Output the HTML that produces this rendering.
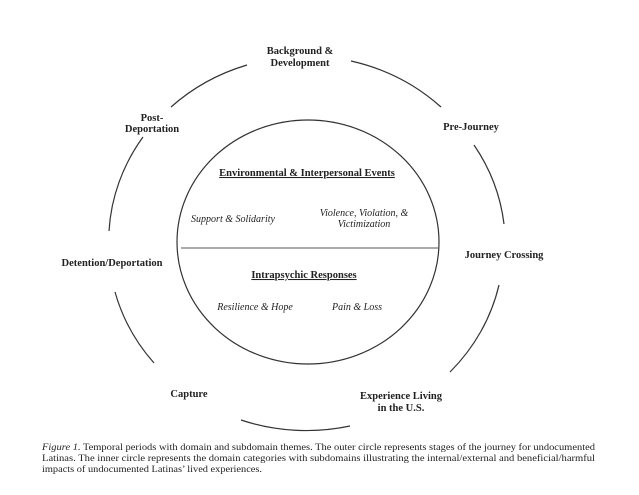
<!DOCTYPE html>
<html><head><style>body{margin:0;background:#fff}svg{display:block}</style></head><body>
<svg width="639" height="495" viewBox="0 0 639 495" xmlns="http://www.w3.org/2000/svg" font-family="Liberation Serif, serif" fill="#222">
<g fill="none" stroke="#333" stroke-width="1.2">
<path d="M171,107 A197 185 0 0 1 247,65"/>
<path d="M351,61 A197 185 0 0 1 441,107"/>
<path d="M474,145 A197 185 0 0 1 504,224"/>
<path d="M499,285 A197 185 0 0 1 450,372"/>
<path d="M350,426 A197 185 0 0 1 241,420"/>
<path d="M154,363 A197 185 0 0 1 115,292"/>
<path d="M109,231 A197 185 0 0 1 143,137"/>
<ellipse cx="308" cy="242" rx="131" ry="122"/>
</g>
<line x1="181" y1="248" x2="438" y2="248" stroke="#aaa" stroke-width="2"/>
<g font-weight="bold" font-size="10.5" text-anchor="middle">
<text x="300" y="54">Background &amp;</text>
<text x="300" y="66">Development</text>
<text x="152" y="121">Post-</text>
<text x="152" y="132">Deportation</text>
<text x="471" y="130">Pre-Journey</text>
<text x="504" y="258">Journey Crossing</text>
<text x="112" y="266">Detention/Deportation</text>
<text x="189" y="397">Capture</text>
<text x="401" y="399">Experience Living</text>
<text x="401" y="411">in the U.S.</text>
<text x="307" y="176" text-decoration="underline">Environmental &amp; Interpersonal Events</text>
<text x="304" y="278" text-decoration="underline">Intrapsychic Responses</text>
</g>
<g font-style="italic" font-size="10" text-anchor="middle">
<text x="233" y="222">Support &amp; Solidarity</text>
<text x="364" y="216">Violence, Violation, &amp;</text>
<text x="364" y="227">Victimization</text>
<text x="255" y="310">Resilience &amp; Hope</text>
<text x="357" y="310">Pain &amp; Loss</text>
</g>
<g font-size="9.5">
<text x="42" y="450" textLength="553" lengthAdjust="spacingAndGlyphs"><tspan font-style="italic">Figure 1.</tspan>  Temporal periods with domain and subdomain themes. The outer circle represents stages of the journey for undocumented</text>
<text x="42" y="461" textLength="553" lengthAdjust="spacingAndGlyphs">Latinas. The inner circle represents the domain categories with subdomains illustrating the internal/external and beneficial/harmful</text>
<text x="42" y="472" textLength="220" lengthAdjust="spacingAndGlyphs">impacts of undocumented Latinas’ lived experiences.</text>
</g>
</svg>
</body></html>
